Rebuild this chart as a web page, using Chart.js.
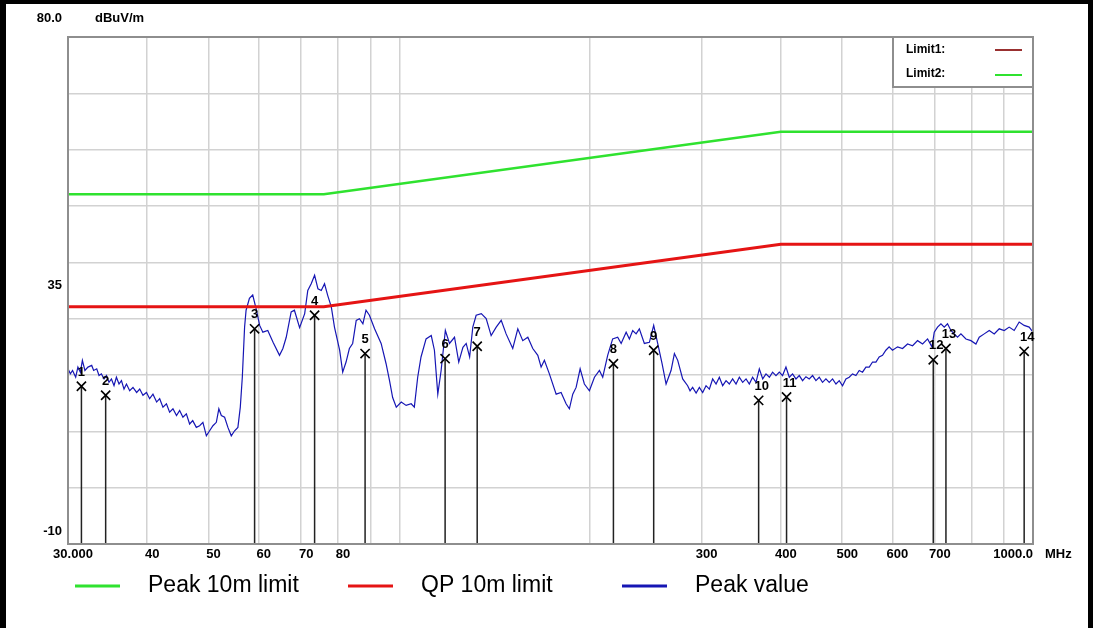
<!DOCTYPE html>
<html>
<head>
<meta charset="utf-8">
<script src="https://cdn.jsdelivr.net/npm/chart.js@4/dist/chart.umd.min.js"></script>
<style>
  html, body { margin: 0; padding: 0; background: #fff; }
  canvas { display: block; }
</style>
</head>
<body>
<canvas id="emc" width="1093" height="628"></canvas>
<script>
const traceFreq = [
  30.0, 30.26, 30.5, 30.85, 31.1, 31.38, 31.61, 31.9, 32.26, 32.7,
  32.93, 33.3, 33.58, 33.87, 34.2, 34.5, 34.82, 35.13, 35.46, 35.77,
  36.11, 36.43, 36.77, 37.1, 37.54, 37.99, 38.5, 38.93, 39.39, 39.9,
  40.36, 40.85, 41.4, 41.86, 42.36, 42.9, 43.4, 43.93, 44.5, 45.01,
  45.55, 46.12, 46.67, 47.2, 47.82, 48.4, 48.98, 49.6, 50.19, 50.8,
  51.43, 51.9, 52.37, 53.0, 53.64, 54.3, 54.96, 55.62, 56.11, 56.52,
  56.99,
  57.3, 58.0, 58.7, 59.5, 60.2, 60.9, 62.0, 63.2, 64.7, 65.5,
  66.3, 67.5, 68.3, 69.6, 70.9, 71.7, 72.6, 73.5, 74.4, 75.3,
  76.2, 77.1, 78.1, 79.0, 80.5, 81.4, 82.4, 83.4, 84.4, 85.5,
  86.5, 87.6, 88.6, 89.7, 91.4, 93.6, 95.3, 96.5, 97.6, 98.9,
  100.7, 102.5, 104.4, 105.6, 106.9, 108.2, 110.2, 112.3, 113.6, 115.0,
  116.4, 118.2, 120.0, 122.2, 124.1, 126.0, 127.5, 129.1, 130.6, 132.2,
  134.7, 137.1, 139.6, 142.2, 144.8, 147.4, 151.0, 153.8, 156.6, 159.5,
  162.4, 165.4, 167.4, 169.4, 172.5, 176.8, 180.0, 183.3, 185.5, 187.8,
  190.1, 192.9, 195.9, 199.5, 203.2, 206.9, 209.4, 213.2, 217.1, 221.1,
  223.9, 228.0, 230.7, 233.5, 236.4, 239.2, 243.6, 248.1, 252.0, 255.7,
  259.8, 263.6, 268.4, 271.7, 275.0, 280.0,
  285.1, 287.6, 290.3, 294.0, 297.5, 301.1, 304.8, 308.5, 312.2, 316.1,
  319.9, 323.8, 327.8, 331.7, 335.7, 339.9, 344.0, 348.2, 352.5, 356.7,
  361.0, 365.5, 369.9, 374.5, 379.0, 383.7, 388.2, 393.0, 397.8, 402.5,
  407.5, 412.5, 417.4, 422.6, 427.7, 432.9, 438.2, 443.5, 448.9, 454.4,
  459.9, 465.4, 471.2, 476.9, 482.7, 488.7, 494.6, 500.5, 506.7, 512.8,
  519.0, 525.5, 531.8, 538.2, 544.9, 551.5, 558.2, 565.1, 571.8, 578.8,
  585.9, 592.9, 600.1, 611.4, 622.5, 633.9, 645.6, 657.4, 669.5, 681.8,
  692.7, 698.5, 706.9, 715.7, 724.3, 733.0, 742.1, 751.1, 760.1, 769.6,
  783.7, 798.1, 812.7, 822.5, 837.6, 853.0, 868.6, 884.5, 900.7, 917.1,
  933.9, 951.0, 968.4, 986.2, 1000
];
const traceLevel = [
  21.1, 20.2, 20.8, 19.6, 21.4, 20.5, 22.6, 20.8, 21.4, 21.7,
  20.8, 21.1, 19.9, 20.2, 19.3, 19.9, 18.7, 19.3, 18.1, 19.6,
  18.4, 19.0, 17.5, 18.4, 17.2, 17.8, 16.9, 17.5, 16.4, 16.9,
  15.8, 16.6, 15.2, 15.8, 14.3, 14.9, 13.4, 14.0, 12.8, 13.7,
  12.5, 13.1, 11.3, 11.9, 10.7, 11.0, 11.6, 9.2, 10.1, 11.0,
  11.6, 14.0, 12.8, 12.5, 10.7, 9.2, 10.1, 10.7, 14.3, 19.6,
  28.5,
  31.5, 33.6, 34.2, 31.5, 28.8, 27.6, 27.9, 25.8, 23.5, 24.7,
  26.7, 31.2, 31.5, 28.4, 30.9, 35.0, 36.2, 37.7, 35.3, 35.0,
  36.2, 34.1, 32.1, 28.5, 24.4, 20.5, 22.3, 24.7, 25.6, 29.7,
  30.0, 29.1, 31.5, 30.6, 28.2, 25.6, 22.0, 19.0, 16.0, 14.3,
  15.2, 14.6, 14.9, 14.3, 19.6, 23.2, 26.4, 27.0, 24.4, 16.6,
  20.8, 27.9, 25.6, 26.7, 22.3, 24.9, 25.6, 23.2, 28.5, 30.6,
  30.9, 30.0, 27.0, 28.5, 29.7, 27.3, 24.7, 28.2, 26.1, 26.7,
  24.7, 23.5, 21.4, 22.6, 20.2, 16.6, 16.9, 14.9, 14.0, 16.6,
  17.8, 21.1, 18.4, 17.2, 19.6, 20.8, 19.6, 23.5, 26.4, 26.7,
  25.6, 27.6, 26.4, 27.9, 27.3, 28.2, 25.6, 25.8, 28.8, 25.6,
  22.0, 18.4, 20.8, 23.8, 22.6, 19.3,
  18.1, 17.2, 17.8, 16.8, 17.8, 16.9, 18.1, 17.5, 19.3, 18.4,
  19.6, 18.1, 19.0, 18.4, 19.3, 18.4, 19.6, 18.7, 19.3, 18.4,
  19.6, 18.7, 21.1, 19.3, 20.2, 19.6, 20.5, 19.9, 20.5, 19.9,
  21.4, 19.6, 20.2, 19.3, 19.9, 19.0, 19.7, 19.3, 19.9, 19.0,
  19.6, 18.7, 19.3, 18.7, 19.3, 18.4, 19.0, 18.1, 19.3, 19.6,
  20.2, 19.9, 20.8, 20.5, 21.4, 21.4, 22.3, 22.3, 23.2, 23.5,
  24.4, 25.0, 24.4, 25.0, 24.7, 25.5, 25.2, 26.1, 25.5, 26.4,
  25.0, 27.6, 28.5, 29.1, 28.5, 29.1, 27.9, 27.3, 26.7, 27.3,
  26.4, 26.1, 25.5, 26.7, 27.3, 27.9, 27.3, 28.2, 27.9, 28.5,
  27.9, 29.4, 28.8, 28.5, 27.6
];

// limit lines
const limitFreq = [30, 76, 400, 1000];
const qpLimit = [32.1, 32.1, 43.2, 43.2];
const peakLimit = [52.1, 52.1, 63.2, 63.2];

// markers 1..14
const markerNo = [1, 2, 3, 4, 5, 6, 7, 8, 9, 10, 11, 12, 13, 14];
const markerFreq = [31.5, 34.4, 59.1, 73.5, 88.3, 118.1, 132.7, 217.7, 252.0, 369.0, 408.4, 696.0, 728.8, 968.4];
const markerLevel = [18.0, 16.4, 28.2, 30.6, 23.8, 22.9, 25.1, 22.0, 24.4, 15.5, 16.1, 22.7, 24.7, 24.2];

// axes
const gridFreqs = [30, 40, 50, 60, 70, 80, 90, 100, 200, 300, 400, 500, 600, 700, 800, 900, 1000];
const xLabelValues = [30, 40, 50, 60, 70, 80, 300, 400, 500, 600, 700, 1000];
const xLabelTexts = ['30.000', '40', '50', '60', '70', '80', '300', '400', '500', '600', '700', '1000.0'];
const yLabelValues = [80, 35, -10];
const yLabelTexts = ['80.0', '35', '-10'];
const yMin = -10, yMax = 80;

const GREEN = '#2fe22f';
const RED = '#e51414';
const BLUE = '#1616b4';

const toPts = (xs, ys) => xs.map((x, i) => ({ x: x, y: ys[i] }));

// vertical drop lines from each marker to the bottom of the plot
const dropLines = [];
markerFreq.forEach((f, i) => {
  dropLines.push({ x: f, y: markerLevel[i] }, { x: f, y: yMin }, { x: f, y: null });
});

const decor = {
  id: 'decor',
  beforeDraw(chart) {
    const c = chart.ctx;
    c.save();
    c.fillStyle = '#fff';
    c.fillRect(0, 0, chart.width, chart.height);
    c.restore();
  },
  afterDatasetsDraw(chart) {
    const c = chart.ctx;
    const a = chart.chartArea;
    const xs = chart.scales.x, ys = chart.scales.y;
    c.save();

    // plot frame
    c.strokeStyle = '#8e8e8e';
    c.lineWidth = 2;
    c.strokeRect(a.left, a.top, a.right - a.left, a.bottom - a.top);

    // marker numbers
    c.fillStyle = '#000';
    c.font = 'bold 13px "Liberation Sans", Arial, sans-serif';
    c.textAlign = 'center';
    c.textBaseline = 'middle';
    markerNo.forEach((n, i) => {
      const px = xs.getPixelForValue(markerFreq[i]);
      const py = ys.getPixelForValue(markerLevel[i]);
      c.fillText(String(n), px + (n >= 10 ? 3 : 0), py - 14);
    });

    // y labels
    const yShift = { '80.0': -19, '35': -5, '-10': -13 };
    c.textAlign = 'right';
    yLabelValues.forEach((v, i) => {
      c.fillText(yLabelTexts[i], a.left - 6, ys.getPixelForValue(v) + yShift[yLabelTexts[i]]);
    });
    c.textAlign = 'left';
    c.fillText('dBuV/m', 95, ys.getPixelForValue(yMax) - 19);

    // x labels
    xLabelValues.forEach((v, i) => {
      const px = xs.getPixelForValue(v);
      const last = i === xLabelValues.length - 1;
      c.textAlign = last ? 'right' : 'center';
      c.fillText(xLabelTexts[i], last ? px : px + 5, a.bottom + 10);
    });
    c.textAlign = 'left';
    c.fillText('MHz', a.right + 12, a.bottom + 10);

    // limit key box, top right
    const bx = 893, by = a.top, bw = a.right - 893, bh = 50;
    c.fillStyle = '#fff';
    c.fillRect(bx, by, bw, bh);
    c.strokeStyle = '#8e8e8e';
    c.lineWidth = 2;
    c.strokeRect(bx, by, bw, bh);
    c.fillStyle = '#000';
    c.font = 'bold 12px "Liberation Sans", Arial, sans-serif';
    c.fillText('Limit1:', 906, by + 13);
    c.fillText('Limit2:', 906, by + 37);
    c.lineWidth = 2;
    c.strokeStyle = '#993030';
    c.beginPath(); c.moveTo(995, by + 13); c.lineTo(1022, by + 13); c.stroke();
    c.strokeStyle = GREEN;
    c.beginPath(); c.moveTo(995, by + 38); c.lineTo(1022, by + 38); c.stroke();

    // bottom legend
    const items = [
      { t: 'Peak 10m limit', col: GREEN, x: 75 },
      { t: 'QP 10m limit', col: RED, x: 348 },
      { t: 'Peak value', col: BLUE, x: 622 }
    ];
    c.font = '23px "Liberation Sans", Arial, sans-serif';
    c.lineWidth = 3;
    items.forEach(it => {
      c.strokeStyle = it.col;
      c.beginPath(); c.moveTo(it.x, 586); c.lineTo(it.x + 45, 586); c.stroke();
      c.fillStyle = '#000';
      c.fillText(it.t, it.x + 73, 586);
    });

    // outer black frame
    c.fillStyle = '#000';
    c.fillRect(0, 0, chart.width, 4);
    c.fillRect(0, 0, 6, chart.height);
    c.fillRect(chart.width - 5, 0, 5, chart.height);
    c.restore();
  }
};

new Chart(document.getElementById('emc').getContext('2d'), {
  type: 'line',
  data: {
    datasets: [
      {
        label: 'Peak value',
        data: toPts(traceFreq, traceLevel),
        borderColor: BLUE,
        borderWidth: 1.2,
        pointRadius: 0,
        tension: 0,
        order: 4
      },
      {
        label: 'QP 10m limit',
        data: toPts(limitFreq, qpLimit),
        borderColor: RED,
        borderWidth: 3,
        pointRadius: 0,
        order: 3
      },
      {
        label: 'Peak 10m limit',
        data: toPts(limitFreq, peakLimit),
        borderColor: GREEN,
        borderWidth: 2.5,
        pointRadius: 0,
        order: 3
      },
      {
        label: 'drop',
        data: dropLines,
        borderColor: '#222',
        borderWidth: 1.5,
        pointRadius: 0,
        spanGaps: false,
        order: 2
      },
      {
        label: 'markers',
        data: toPts(markerFreq, markerLevel),
        showLine: false,
        pointStyle: 'crossRot',
        pointRadius: 6.5,
        borderColor: '#000',
        borderWidth: 1.6,
        order: 1
      }
    ]
  },
  options: {
    responsive: false,
    animation: false,
    events: [],
    layout: { padding: { left: 68, top: 37, right: 60, bottom: 84 } },
    plugins: { legend: { display: false }, tooltip: { enabled: false } },
    scales: {
      x: {
        type: 'logarithmic',
        min: 30,
        max: 1000,
        afterBuildTicks: s => { s.ticks = gridFreqs.map(v => ({ value: v })); },
        ticks: { display: false },
        grid: { color: '#d2d2d2', lineWidth: 1.5, drawTicks: false },
        border: { display: false }
      },
      y: {
        type: 'linear',
        min: yMin,
        max: yMax,
        ticks: { display: false, stepSize: 10 },
        grid: { color: '#d2d2d2', lineWidth: 1.5, drawTicks: false },
        border: { display: false }
      }
    }
  },
  plugins: [decor]
});
</script>
</body>
</html>
